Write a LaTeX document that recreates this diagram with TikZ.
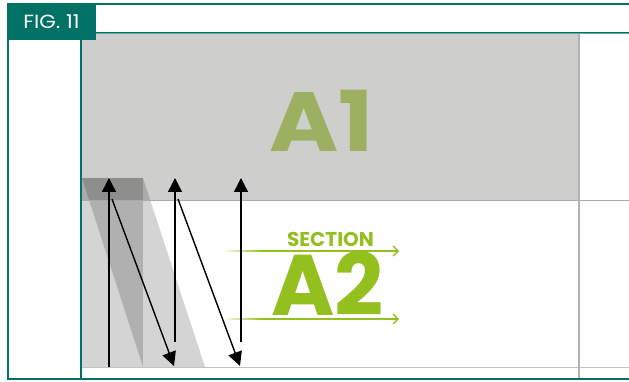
\documentclass[tikz,border=0pt]{standalone}
\usepackage{fontspec}
\setmainfont{Poppins}
\usetikzlibrary{arrows.meta}
\definecolor{tealD}{RGB}{0,114,101}
\definecolor{tealL}{RGB}{96,170,160}
\definecolor{agray}{RGB}{206,206,205}
\definecolor{lgreen}{RGB}{148,192,31}
\definecolor{olive}{RGB}{155,176,96}
\definecolor{rulegray}{RGB}{170,170,170}
\begin{document}
\begin{tikzpicture}[x=1pt,y=-1pt,
  blackarrow/.style={draw=black, line width=1.4pt, -{Triangle[width=14pt,length=14pt]}},
  greenarrow/.style={draw=lgreen, line width=1.3pt, -{Straight Barb[length=5pt,width=10pt,line width=1.3pt]}},
  overlay/.style={fill=black, fill opacity=0.17},
  rule/.style={draw=rulegray, line width=1pt},
  frame/.style={draw=tealD, line width=2pt}]
\useasboundingbox (0,0) rectangle (629,382);
\fill[white] (0,0) rectangle (629,382);
% A1 area
\fill[agray] (82,34) rectangle (578,200);
% overlays
\fill[overlay] (82,178) rectangle (143,367);
\fill[overlay] (82,178) -- (143,178) -- (205,367) -- (143,367) -- cycle;
% rules
\draw[rule] (82,200.5) -- (629,200.5);
\draw[rule, draw=rulegray!70] (82,367) -- (629,367);
\draw[rule, line width=1.5pt, draw=rulegray!90] (579,34) -- (579,378);
% frame
\draw[frame] (96,4.5) -- (629,4.5);
\draw[draw=tealL, line width=1.5pt] (96,33) -- (629,33);
\draw[draw=tealD, line width=0.8pt] (96,32.3) -- (629,32.3);
\draw[frame] (8,40) -- (8,379) -- (629,379);
\draw[draw=tealD, line width=1.5pt] (81,33) -- (81,378);
% fig label
\fill[tealD] (7,3) rectangle (96,40);
\node[anchor=base, text=white, font=\fontsize{19}{19}\selectfont, inner sep=0] (fig) at (51.5,29) {\scalebox{1.12}[1]{FIG. 11}};
% texts
\node[anchor=base, text=olive, font=\fontsize{84}{84}\selectfont\bfseries, inner sep=0] (a1) at (322,152) {\scalebox{1.12}[1]{A1}};
\node[anchor=base, text=lgreen, font=\fontsize{20}{20}\selectfont\bfseries, inner sep=0] (sec) at (330.5,247) {SECTION};
\node[anchor=base, text=lgreen, font=\fontsize{86}{86}\selectfont\bfseries, inner sep=0] (a2) at (327.5,315) {A2};
% green arrows
\coordinate (g1s) at (262,251); \coordinate (g1e) at (399,251);
\coordinate (g2s) at (262,319); \coordinate (g2e) at (399,319);
\shade[left color=white, right color=lgreen] (222,250.35) rectangle (262,251.65);
\shade[left color=white, right color=lgreen] (222,318.35) rectangle (262,319.65);
\draw[greenarrow] (g1s) -- (g1e);
\draw[greenarrow] (g2s) -- (g2e);
% black arrows
\coordinate (p1s) at (109,367); \coordinate (p1e) at (109,178);
\coordinate (p2s) at (112,199); \coordinate (p2e) at (174,366);
\coordinate (p3s) at (175,342); \coordinate (p3e) at (175,178);
\coordinate (p4s) at (178,199); \coordinate (p4e) at (240,366);
\coordinate (p5s) at (241,342); \coordinate (p5e) at (241,178);
\draw[blackarrow] (p1s) -- (p1e);
\draw[blackarrow] (p2s) -- (p2e);
\draw[blackarrow] (p3s) -- (p3e);
\draw[blackarrow] (p4s) -- (p4e);
\draw[blackarrow] (p5s) -- (p5e);
\end{tikzpicture}
\end{document}
